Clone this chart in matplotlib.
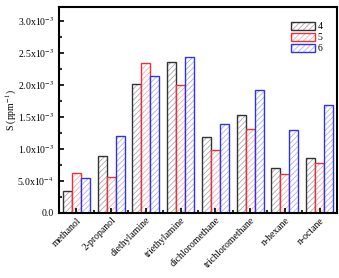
import matplotlib.pyplot as plt
import numpy as np
from matplotlib.ticker import FixedLocator, MultipleLocator
from matplotlib.patches import Patch

plt.rcParams['font.family'] = ['Liberation Serif', 'DejaVu Serif']
plt.rcParams['mathtext.fontset'] = 'stix'
plt.rcParams['hatch.linewidth'] = 0.6

solvents = ['methanol', '2-propanol', 'diethylamine', 'triethylamine',
            'dichloromethane', 'trichloromethane', 'n-hexane', 'n-octane']
s4 = [0.35e-3, 0.89e-3, 2.01e-3, 2.36e-3, 1.19e-3, 1.53e-3, 0.71e-3, 0.86e-3]
s5 = [0.62e-3, 0.56e-3, 2.35e-3, 2.00e-3, 0.98e-3, 1.31e-3, 0.61e-3, 0.78e-3]
s6 = [0.54e-3, 1.20e-3, 2.14e-3, 2.44e-3, 1.39e-3, 1.92e-3, 1.30e-3, 1.68e-3]
series = [('4', s4, '#333333', '#aaaaaa'),
          ('5', s5, '#e8323c', '#f4b0b0'),
          ('6', s6, '#3333dd', '#b0b0f0')]

fig = plt.figure(figsize=(3.39, 2.78), dpi=100)
ax = fig.add_axes([0.174, 0.234, 0.82, 0.741])

x = np.arange(len(solvents))
w = 0.26
handles = []
for i, (name, vals, edge, hat) in enumerate(series):
    pos = x + (i - 1) * w
    ax.bar(pos, vals, w, color='white', edgecolor=hat, hatch='//////', linewidth=0)
    ax.bar(pos, vals, w, color='none', edgecolor=edge, linewidth=1.0)
    handles.append((Patch(facecolor='white', edgecolor=hat, hatch='//////', linewidth=0),
                    Patch(facecolor='none', edgecolor=edge, linewidth=1.0)))

ax.set_xlim(-0.5, 7.5)
ax.set_ylim(0, 3.22e-3)
ax.set_xticks(x)
ax.set_xticklabels(solvents, rotation=45, ha='right', rotation_mode='anchor', fontsize=7)
ax.xaxis.set_minor_locator(FixedLocator(x[:-1] + 0.5))
yt = [0, 0.5e-3, 1.0e-3, 1.5e-3, 2.0e-3, 2.5e-3, 3.0e-3]
ylabels = ['0.0', '5.0x10$^{-4}$', '1.0x10$^{-3}$', '1.5x10$^{-3}$',
           '2.0x10$^{-3}$', '2.5x10$^{-3}$', '3.0x10$^{-3}$']
ax.set_yticks(yt)
ax.set_yticklabels(ylabels, fontsize=7)
ax.yaxis.set_minor_locator(MultipleLocator(0.25e-3))
ax.tick_params(which='both', direction='in', width=1.2)
ax.tick_params(which='major', length=3.5)
ax.tick_params(which='minor', length=2)
ax.tick_params(axis='x', pad=2)
for sp in ax.spines.values():
    sp.set_linewidth(1.5)
ax.set_ylabel('S (ppm$^{-1}$)', fontsize=7)
ax.yaxis.set_label_coords(-0.145, 0.5)

ax.legend(handles=handles, labels=['4', '5', '6'], loc='upper right', frameon=False,
          fontsize=7, handlelength=2.4, handleheight=0.9, labelspacing=0.15,
          handletextpad=0.3, bbox_to_anchor=(0.98, 0.97))

fig.savefig('out.png', dpi=100)
